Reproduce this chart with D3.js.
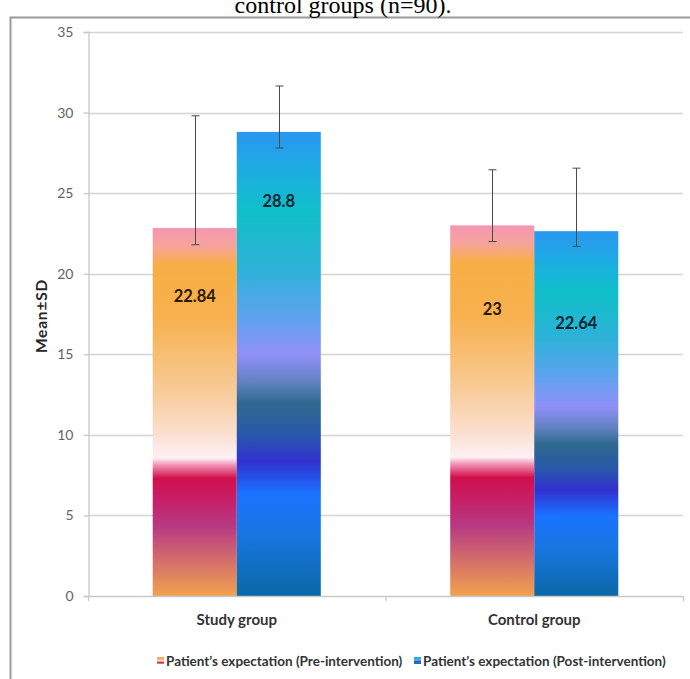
<!DOCTYPE html>
<html>
<head>
<meta charset="utf-8">
<script src="https://cdn.jsdelivr.net/npm/d3@7/dist/d3.min.js"></script>
<style>
  html, body { margin: 0; padding: 0; background: #fff; }
  svg { display: block; }
</style>
</head>
<body>
<svg id="chart" width="690" height="679"></svg>
<script>
// ---------------- DATA ----------------
const categories = ["Study group", "Control group"];
const seriesNames = ["Patient\u2019s expectation (Pre-intervention)", "Patient\u2019s expectation (Post-intervention)"];
const preMeans = [22.84, 23];
const postMeans = [28.8, 22.64];
const preErrLow = [21.8, 22.0];
const preErrHigh = [29.8, 26.45];
const postErrLow = [27.8, 21.7];
const postErrHigh = [31.65, 26.55];
const preLabels = ["22.84", "23"];
const postLabels = ["28.8", "22.64"];
const yTicks = [0, 5, 10, 15, 20, 25, 30, 35];
const titleText = "control groups (n=90).";
const yAxisTitle = "Mean\u00B1SD";

// ---------------- LAYOUT ----------------
(function () {
const svg = d3.select("#chart");
const pLeft = 88, pRight = 683, pTop = 32, pBottom = 596;
const font = "Lato, 'Open Sans', 'DejaVu Sans', sans-serif";

const y = d3.scaleLinear().domain([0, 35]).range([pBottom, pTop]);
const x0 = d3.scaleBand().domain(categories).range([pLeft, pRight])
  .paddingInner(0.435).paddingOuter(0.2175);
const x1 = d3.scaleBand().domain(seriesNames).range([0, x0.bandwidth()]).padding(0);

// gradients
const defs = svg.append("defs");
function grad(id, stops) {
  const g = defs.append("linearGradient").attr("id", id)
    .attr("x1", 0).attr("y1", 0).attr("x2", 0).attr("y2", 1);
  stops.forEach(s => g.append("stop").attr("offset", s[0]).attr("stop-color", s[1]));
}
grad("gPre", [
  [0.00, "#f597b2"], [0.05, "#f6a49a"], [0.10, "#f8ae45"], [0.25, "#f7b14f"],
  [0.43, "#f8c993"], [0.56, "#fbdfd0"], [0.625, "#fff0f5"], [0.645, "#f190b2"],
  [0.68, "#d0104c"], [0.74, "#c61f68"], [0.81, "#b73a82"], [0.90, "#d26c6c"],
  [1.00, "#f2a24e"]
]);
grad("gPost", [
  [0.00, "#2a97f0"], [0.07, "#1fa9e6"], [0.17, "#10c0c8"], [0.30, "#2fb1d9"],
  [0.40, "#5fa2ef"], [0.48, "#9090f8"], [0.54, "#6081c0"], [0.585, "#2f6990"],
  [0.65, "#2859a9"], [0.71, "#3131d0"], [0.78, "#1a72ff"], [0.87, "#1877e0"],
  [1.00, "#0a67a6"]
]);

// frame
svg.append("path").attr("d", "M10.5,679 V17.5 H690")
  .attr("fill", "none").attr("stroke", "#9a9a9a").attr("stroke-width", 2);

// title (top part cropped in the original picture)
svg.append("text").attr("x", 343).attr("y", 13)
  .attr("text-anchor", "middle")
  .attr("font-family", "'Liberation Serif', 'Times New Roman', serif")
  .attr("font-size", 24).attr("fill", "#000").text(titleText);

// gridlines
svg.append("g").selectAll("line").data(yTicks.filter(t => t > 0)).join("line")
  .attr("x1", pLeft).attr("x2", pRight)
  .attr("y1", d => Math.round(y(d)) + 0.5).attr("y2", d => Math.round(y(d)) + 0.5)
  .attr("stroke", "#d4d4d4").attr("stroke-width", 1.3);

// y axis
const yAxis = d3.axisLeft(y).tickValues(yTicks).tickSize(5).tickPadding(10);
const gy = svg.append("g").attr("transform", `translate(${pLeft + 0.5},0)`).call(yAxis);
gy.select(".domain").attr("stroke", "#c8c8c8").attr("stroke-width", 1.3);
gy.selectAll(".tick line").attr("stroke", "#c8c8c8").attr("stroke-width", 1.3);
gy.selectAll(".tick text").attr("font-family", font).attr("font-size", 14)
  .attr("fill", "#636363");

// y title
svg.append("text").attr("transform", `translate(47,316) rotate(-90)`)
  .attr("text-anchor", "middle").attr("font-family", font).attr("font-weight", "bold")
  .attr("font-size", 15.5).attr("letter-spacing", 0.8)
  .attr("fill", "#262626").text(yAxisTitle);

// bars
const seriesData = [
  { name: seriesNames[0], means: preMeans, lo: preErrLow, hi: preErrHigh, labels: preLabels, fill: "url(#gPre)", textFill: "#2b1800" },
  { name: seriesNames[1], means: postMeans, lo: postErrLow, hi: postErrHigh, labels: postLabels, fill: "url(#gPost)", textFill: "#0b2533" }
];
const bars = [];
seriesData.forEach((s, si) => {
  categories.forEach((c, ci) => {
    bars.push({ si, ci, cat: c, series: s.name, v: s.means[ci], lo: s.lo[ci], hi: s.hi[ci], label: s.labels[ci], fill: s.fill, textFill: s.textFill });
  });
});

svg.append("g").selectAll("rect").data(bars).join("rect")
  .attr("x", d => x0(d.cat) + x1(d.series))
  .attr("y", d => y(d.v))
  .attr("width", x1.bandwidth())
  .attr("height", d => y(0) - y(d.v))
  .attr("fill", d => d.fill);

// x axis
svg.append("line").attr("x1", pLeft).attr("x2", pRight)
  .attr("y1", pBottom + 0.5).attr("y2", pBottom + 0.5)
  .attr("stroke", "#c8c8c8").attr("stroke-width", 1.3);
const sepTicks = [pLeft, (x0(categories[0]) + x0.bandwidth() + x0(categories[1])) / 2, pRight];
svg.append("g").selectAll("line").data(sepTicks).join("line")
  .attr("x1", d => d + 0.5).attr("x2", d => d + 0.5)
  .attr("y1", pBottom).attr("y2", pBottom + 5)
  .attr("stroke", "#c8c8c8").attr("stroke-width", 1.3);

svg.append("g").selectAll("text").data(categories).join("text")
  .attr("x", d => x0(d) + x0.bandwidth() / 2).attr("y", 625)
  .attr("text-anchor", "middle").attr("font-family", font).attr("font-weight", "bold")
  .attr("font-size", 15).attr("fill", "#333").text(d => d);

// error bars
const gErr = svg.append("g").attr("stroke", "#4a4a4a").attr("stroke-width", 1);
bars.forEach(d => {
  const cx = Math.round(x0(d.cat) + x1(d.series) + x1.bandwidth() / 2) + 0.5;
  gErr.append("line").attr("x1", cx).attr("x2", cx).attr("y1", y(d.hi)).attr("y2", y(d.lo));
  gErr.append("line").attr("x1", cx - 4).attr("x2", cx + 4).attr("y1", y(d.hi)).attr("y2", y(d.hi));
  gErr.append("line").attr("x1", cx - 4).attr("x2", cx + 4).attr("y1", y(d.lo)).attr("y2", y(d.lo));
});

// value labels (placed inside the bars, below the top)
const labelDrop = [[74, 90], [75, 98]];
svg.append("g").selectAll("text").data(bars).join("text")
  .attr("x", d => x0(d.cat) + x1(d.series) + x1.bandwidth() / 2)
  .attr("y", d => y(d.v) + labelDrop[d.si][d.ci])
  .attr("text-anchor", "middle").attr("font-family", font).attr("font-weight", "bold")
  .attr("font-size", 16.5).attr("fill", d => d.textFill).text(d => d.label);

// legend
const legend = svg.append("g").attr("font-family", font).attr("font-weight", "bold")
  .attr("font-size", 13.5).attr("fill", "#333");
const legendX = [157, 414];
seriesData.forEach((s, i) => {
  legend.append("rect").attr("x", legendX[i]).attr("y", 657).attr("width", 7).attr("height", 7)
    .attr("fill", s.fill);
  legend.append("text").attr("x", legendX[i] + 9).attr("y", 665.5).text(s.name);
});
})();
</script>
</body>
</html>
